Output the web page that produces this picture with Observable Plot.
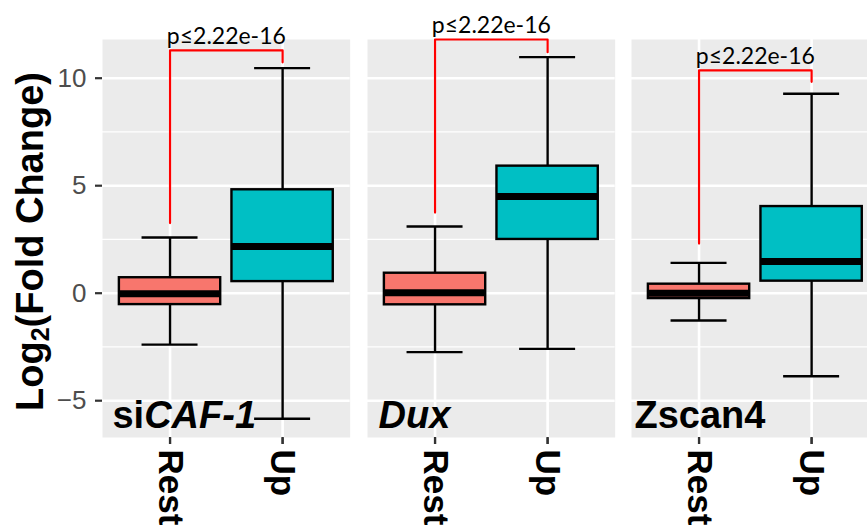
<!DOCTYPE html>
<html>
<head>
<meta charset="utf-8">
<script src="https://cdn.jsdelivr.net/npm/d3@7"></script>
<script src="https://cdn.jsdelivr.net/npm/@observablehq/plot@0.6"></script>
<style>
html, body { margin: 0; padding: 0; background: #fff; overflow: hidden; width: 867px; height: 532px; }
#chart { position: relative; width: 867px; height: 532px; }
.panel { position: absolute; top: 0; }
.panel svg { overflow: visible; display: block; max-width: none !important; background: transparent !important; }
g[aria-label^="y-axis"] { color: #333333; }
g[aria-label^="y-axis"] text { fill: #4D4D4D; font-size: 26px; font-family: "Liberation Sans", Arial, sans-serif; font-weight: normal; }
g[aria-label^="x-axis"] { color: #333333; }
g[aria-label^="x-axis"] text { fill: #000; font-size: 35px; font-weight: bold; font-family: "Liberation Sans", Arial, sans-serif; }
g[aria-label^="x-axis"] line, g[aria-label^="x-axis"] path,
g[aria-label^="y-axis"] line, g[aria-label^="y-axis"] path { stroke: #333333 !important; stroke-width: 2.2px !important; }
</style>
</head>
<body>
<div id="chart"></div>
<script>
// ---- data ----
const facets = ["siCAF-1", "Dux", "Zscan4"];
const facetUpright = ["si", "", "Zscan4"];
const facetItalic = ["CAF-1", "Dux", ""];
const groups = ["Rest", "Up"];
const groupColors = ["#F8766D", "#00BFC4"];
const lowerWhisker = [[-2.39, -5.84], [-2.74, -2.59], [-1.27, -3.86]];
const q1 = [[-0.53, 0.54], [-0.54, 2.50], [-0.25, 0.56]];
const median = [[-0.03, 2.17], [0.02, 4.50], [0.00, 1.47]];
const q3 = [[0.72, 4.81], [0.93, 5.91], [0.42, 4.03]];
const upperWhisker = [[2.59, 10.47], [3.10, 10.98], [1.41, 9.28]];
const pLabels = ["p≤2.22e-16", "p≤2.22e-16", "p≤2.22e-16"];
const bracketTop = [11.29, 11.80, 10.36];
const bracketLeftEnd = [3.26, 3.75, 2.31];
const bracketRightEnd = [10.74, 11.21, 9.83];
const yTicks = [-5, 0, 5, 10];
const yMinorTicks = [-2.5, 2.5, 7.5];
const yDomain = [-6.71, 11.8];

// ---- layout ----
const panelLeft = [102, 366.67, 631.33];
const PW = 247.67;
const H = 532, MT = 39, MB = 95;
const frameH = H - MT - MB;
const unitsPerPx = (yDomain[1] - yDomain[0]) / frameH;
const tickLen = 7;
const step = PW / 2.2;
const bw = 0.9 * step;
const capInset = (bw - 56) / 2;
const labelDx = [10, 11, 3];
const sansFont = "Liberation Sans, Arial, sans-serif";
const lw = 2.4;

const chart = document.getElementById("chart");

facets.forEach((facet, i) => {
  const first = i === 0;
  const rows = groups.map((g, j) => ({
    group: g,
    lw: lowerWhisker[i][j], q1: q1[i][j], med: median[i][j], q3: q3[i][j], uw: upperWhisker[i][j]
  }));
  const bracket = [
    {group: groups[0], y: bracketLeftEnd[i]},
    {group: groups[0], y: bracketTop[i]},
    {group: groups[1], y: bracketTop[i]},
    {group: groups[1], y: bracketRightEnd[i]}
  ];
  const svg = Plot.plot({
    width: (first ? panelLeft[0] : 0) + PW,
    height: H,
    marginLeft: first ? panelLeft[0] : 0,
    marginRight: 0,
    marginTop: MT,
    marginBottom: MB,
    style: {background: "transparent", overflow: "visible"},
    x: {type: "band", domain: groups, paddingInner: 0.1, paddingOuter: 0.15, round: false,
        tickRotate: 90, tickSize: 7, tickPadding: 5, label: null},
    y: {domain: yDomain, ticks: yTicks, tickSize: 7, tickPadding: 9, label: null, axis: first ? "left" : null, clamp: false},
    color: {domain: groups, range: groupColors},
    marks: [
      Plot.frame({fill: "#EBEBEB", stroke: "none"}),
      Plot.ruleY(yMinorTicks, {y: d => d, stroke: "white", strokeWidth: 1.3}),
      Plot.ruleY(yTicks, {y: d => d, stroke: "white", strokeWidth: 2.6}),
      Plot.ruleX(groups, {x: d => d, stroke: "white", strokeWidth: 2.6}),
      // x tick marks just below the panel
      Plot.ruleX(groups, {x: d => d, y1: () => yDomain[0], y2: () => yDomain[0] - tickLen * unitsPerPx,
        stroke: "#333333", strokeWidth: 2.2}),
      Plot.line(bracket, {x: "group", y: "y", stroke: "#FF0000", strokeWidth: 2.2}),
      Plot.ruleX(rows, {x: "group", y1: "q3", y2: "uw", stroke: "black", strokeWidth: lw}),
      Plot.ruleX(rows, {x: "group", y1: "lw", y2: "q1", stroke: "black", strokeWidth: lw}),
      Plot.tickY(rows, {x: "group", y: "uw", stroke: "black", strokeWidth: lw, insetLeft: capInset, insetRight: capInset}),
      Plot.tickY(rows, {x: "group", y: "lw", stroke: "black", strokeWidth: lw, insetLeft: capInset, insetRight: capInset}),
      Plot.barY(rows, {x: "group", y1: "q1", y2: "q3", fill: "group", stroke: "black", strokeWidth: lw}),
      Plot.tickY(rows, {x: "group", y: "med", stroke: "black", strokeWidth: 7}),
      Plot.text([pLabels[i]], {y: () => bracketTop[i], text: d => d, frameAnchor: "middle", lineAnchor: "bottom",
        dy: -6, fontSize: 23, fontFamily: "Lato, 'Noto Sans', sans-serif", fill: "black"}),
      Plot.text([facet], {text: d => d, frameAnchor: "bottom-left", textAnchor: "start", lineAnchor: "bottom",
        dx: labelDx[i], dy: -9, fontSize: 38, fontWeight: "bold", fontFamily: sansFont, fill: "black"})
    ]
  });
  const div = document.createElement("div");
  div.className = "panel";
  div.style.left = (first ? 0 : panelLeft[i]) + "px";
  div.appendChild(svg);
  chart.appendChild(div);

  // facet label: upright + italic parts
  d3.select(svg).selectAll("text").filter(function() { return this.textContent === facet; })
    .each(function() {
      const t = d3.select(this);
      t.text(null);
      if (facetUpright[i]) t.append("tspan").text(facetUpright[i]);
      if (facetItalic[i]) t.append("tspan").attr("font-style", "italic").text(facetItalic[i]);
    });

  if (first) {
    const title = d3.select(svg).append("text")
      .attr("transform", "translate(43,241.5) rotate(-90)")
      .attr("text-anchor", "middle")
      .attr("font-family", sansFont)
      .attr("font-size", 38)
      .attr("font-weight", "bold")
      .attr("fill", "black");
    title.append("tspan").text("Log");
    title.append("tspan").attr("font-size", 25).attr("dy", 6).text("2");
    title.append("tspan").attr("dy", -6).text("(Fold Change)");
  }
});
</script>
</body>
</html>
